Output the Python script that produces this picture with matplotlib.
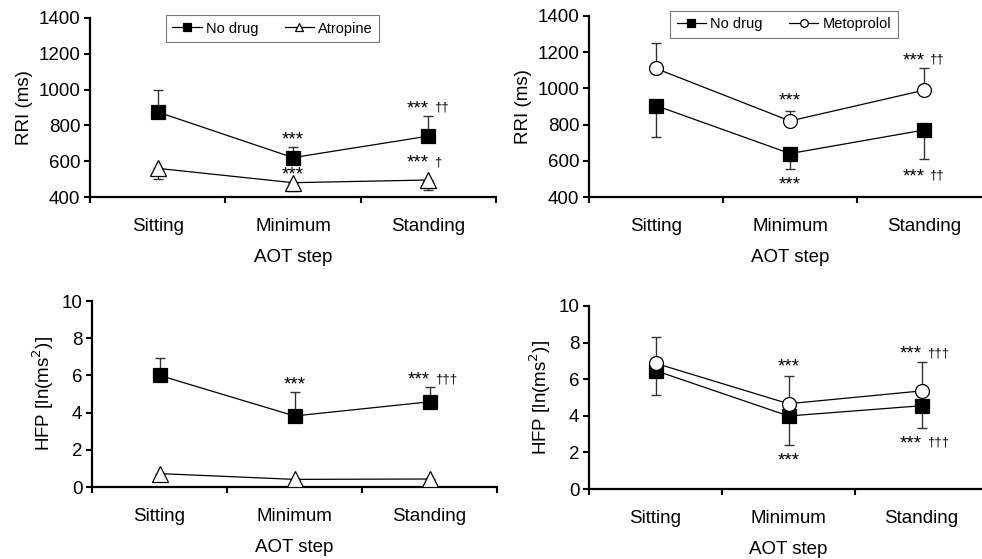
import matplotlib
matplotlib.use("Agg")
import matplotlib.pyplot as plt
import numpy as np

plt.rcParams['font.family'] = ['Liberation Sans', 'DejaVu Sans']

steps = ["Sitting", "Minimum", "Standing"]
x_label = "AOT step"

# Top-left: RRI, no drug vs atropine
rri_nodrug_a = [875, 620, 740]
rri_nodrug_a_sd = [125, 60, 110]
rri_atropine = [560, 480, 495]
rri_atropine_sd = [60, 45, 55]

# Top-right: RRI, no drug vs metoprolol
rri_nodrug_m = [905, 640, 770]
rri_nodrug_m_sd = [175, 85, 160]
rri_metoprolol = [1110, 820, 990]
rri_metoprolol_sd = [140, 55, 120]

# Bottom-left: HFP, no drug vs atropine
hfp_nodrug_a = [6.0, 3.82, 4.58]
hfp_nodrug_a_sd = [0.95, 1.3, 0.8]
hfp_atropine = [0.72, 0.41, 0.43]
hfp_atropine_sd = [0.4, 0.2, 0.2]

# Bottom-right: HFP, no drug vs metoprolol
hfp_nodrug_m = [6.47, 3.99, 4.55]
hfp_nodrug_m_sd = [1.35, 1.6, 1.2]
hfp_metoprolol = [6.87, 4.66, 5.36]
hfp_metoprolol_sd = [1.45, 1.5, 1.6]

W, H = 982, 559
fig = plt.figure(figsize=(W / 100, H / 100), dpi=100)

def make_ax(l, r, b, t):
    return fig.add_axes([l / W, 1 - b / H, (r - l) / W, (b - t) / H])

ax_tl = make_ax(90, 496, 197, 18)
ax_tr = make_ax(589, 991, 197, 16)
ax_bl = make_ax(92, 497, 487, 301)
ax_br = make_ax(589, 988, 489, 306)

xpos = np.arange(len(steps)) + 0.5
ecol = '#333333'
FS = 13.5

def style(ax, ylim, yticks, ylabel):
    ax.set_xlim(0, 3)
    ax.set_ylim(*ylim)
    ax.set_yticks(yticks)
    ax.set_xticks([0, 1, 2, 3])
    ax.set_xticklabels([])
    ax.set_xticks(xpos, minor=True)
    ax.set_xticklabels(steps, minor=True, fontsize=FS)
    ax.tick_params(axis='x', which='minor', length=0, pad=15)
    ax.tick_params(axis='x', which='major', length=4, width=1.5, direction='out')
    ax.tick_params(axis='y', length=4, width=1.5, direction='out', labelsize=FS, pad=3)
    for s in ['top', 'right']:
        ax.spines[s].set_visible(False)
    for s in ['left', 'bottom']:
        ax.spines[s].set_linewidth(1.6)
    ax.set_xlabel(x_label, fontsize=FS, labelpad=10)
    ax.set_ylabel(ylabel, fontsize=FS, labelpad=4)
    ax.patch.set_alpha(0)

def series(ax, y, sd, marker, face, up, label, ms=10):
    y = np.asarray(y)
    sd = np.asarray(sd)
    if up:
        yerr = [np.zeros_like(sd), sd]
    else:
        yerr = [sd, np.zeros_like(sd)]
    ax.errorbar(xpos, y, yerr=yerr, fmt='none', ecolor=ecol, elinewidth=1.0,
                capsize=3.5, capthick=1.0, zorder=2)
    ax.plot(xpos, y, color='black', lw=0.9, marker=marker, ms=ms,
            mfc=face, mec='black', mew=0.9, zorder=3, label=label)

fs_a = 13.5
fs_d = 9.5
dy = 5.5  # points

def annot(ax, i, y, daggers=''):
    if daggers:
        ax.annotate('***', (xpos[i], y), xytext=(0.5, dy), textcoords='offset points',
                    ha='right', va='baseline', fontsize=fs_a, annotation_clip=False)
        ax.annotate(daggers, (xpos[i], y), xytext=(4.0, dy + 1.8), textcoords='offset points',
                    ha='left', va='baseline', fontsize=fs_d, annotation_clip=False)
    else:
        ax.annotate('***', (xpos[i], y), xytext=(0, dy), textcoords='offset points',
                    ha='center', va='baseline', fontsize=fs_a, annotation_clip=False)

# Top-left
series(ax_tl, rri_nodrug_a, rri_nodrug_a_sd, 's', 'black', True, 'No drug')
series(ax_tl, rri_atropine, rri_atropine_sd, '^', 'white', False, 'Atropine', ms=11)
style(ax_tl, (400, 1400), np.arange(400, 1401, 200), 'RRI (ms)')
annot(ax_tl, 1, 650)
annot(ax_tl, 2, 825, '††')
annot(ax_tl, 1, 455)
annot(ax_tl, 2, 520, '†')

# Top-right
series(ax_tr, rri_nodrug_m, rri_nodrug_m_sd, 's', 'black', False, 'No drug')
series(ax_tr, rri_metoprolol, rri_metoprolol_sd, 'o', 'white', True, 'Metoprolol')
style(ax_tr, (400, 1400), np.arange(400, 1401, 200), 'RRI (ms)')
annot(ax_tr, 1, 862)
annot(ax_tr, 2, 1087, '††')
annot(ax_tr, 1, 399)
annot(ax_tr, 2, 444, '††')

# Bottom-left
series(ax_bl, hfp_nodrug_a, hfp_nodrug_a_sd, 's', 'black', True, 'No drug')
series(ax_bl, hfp_atropine, hfp_atropine_sd, '^', 'white', False, 'Atropine', ms=11)
style(ax_bl, (0, 10), np.arange(0, 11, 2), 'HFP [ln(ms$^2$)]')
annot(ax_bl, 1, 4.85)
annot(ax_bl, 2, 5.1, '†††')

# Bottom-right
series(ax_br, hfp_nodrug_m, hfp_nodrug_m_sd, 's', 'black', False, 'No drug')
series(ax_br, hfp_metoprolol, hfp_metoprolol_sd, 'o', 'white', True, 'Metoprolol')
style(ax_br, (0, 10), np.arange(0, 11, 2), 'HFP [ln(ms$^2$)]')
annot(ax_br, 1, 6.0)
annot(ax_br, 2, 6.7, '†††')
annot(ax_br, 1, 0.85)
annot(ax_br, 2, 1.8, '†††')

# Legends
for ax, anchor in [(ax_tl, (0.45, 1.017)), (ax_tr, (0.485, 1.028))]:
    leg = ax.legend(loc='upper center', bbox_to_anchor=anchor, ncol=2, fontsize=10.5,
                    frameon=True, fancybox=False, edgecolor='#555555',
                    handlelength=2.0, markerscale=0.55, columnspacing=1.8,
                    handletextpad=0.3, borderpad=0.45, borderaxespad=0)
    leg.get_frame().set_linewidth(0.8)

fig.savefig('out.png', dpi=100)
